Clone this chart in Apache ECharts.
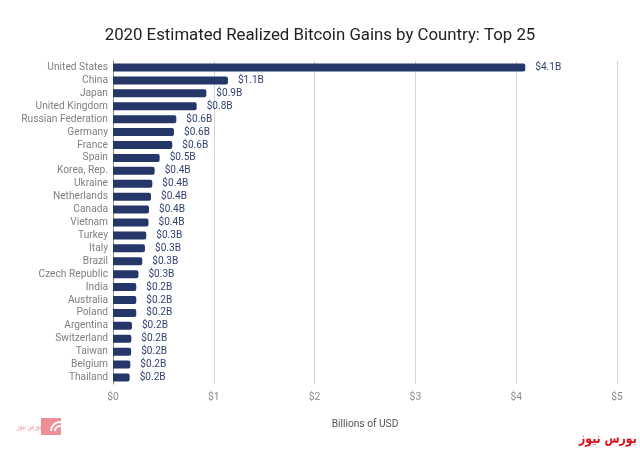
<!DOCTYPE html>
<html>
<head>
<meta charset="utf-8">
<style>
  html, body { margin: 0; padding: 0; background: #fff; }
  #chart { width: 640px; height: 452px; }
</style>
<script src="https://cdn.jsdelivr.net/npm/echarts@6/dist/echarts.min.js"></script>
</head>
<body>
<div id="chart"></div>
<script>
const countries = ['United States', 'China', 'Japan', 'United Kingdom', 'Russian Federation', 'Germany', 'France', 'Spain', 'Korea, Rep.', 'Ukraine', 'Netherlands', 'Canada', 'Vietnam', 'Turkey', 'Italy', 'Brazil', 'Czech Republic', 'India', 'Australia', 'Poland', 'Argentina', 'Switzerland', 'Taiwan', 'Belgium', 'Thailand'];
const gains = [4.09, 1.14, 0.926, 0.83, 0.628, 0.605, 0.588, 0.463, 0.413, 0.39, 0.377, 0.357, 0.352, 0.33, 0.317, 0.29, 0.252, 0.231, 0.231, 0.231, 0.188, 0.182, 0.18, 0.172, 0.165];
const titleText = '2020 Estimated Realized Bitcoin Gains by Country: Top 25';
const axisName = 'Billions of USD';

const chart = echarts.init(document.getElementById('chart'), null, { renderer: 'canvas' });

const option = {
  backgroundColor: '#ffffff',
  textStyle: { fontFamily: 'Roboto' },
  animation: false,
  title: {
    text: titleText,
    left: 'center',
    top: 22,
    textStyle: { fontFamily: 'Roboto', fontSize: 16.8, fontWeight: 'normal', color: '#212121' }
  },
  grid: { left: 113, right: 23, top: 61, bottom: 68 },
  xAxis: {
    type: 'value',
    min: 0,
    max: 5,
    interval: 1,
    axisLine: { show: false },
    axisTick: { show: false },
    splitLine: { lineStyle: { color: '#d4d4d4', width: 1 } },
    axisLabel: {
      color: '#8c8c8c',
      fontSize: 10.3,
      margin: 8,
      formatter: function (v) { return '$' + v; }
    },
    name: axisName,
    nameLocation: 'middle',
    nameGap: 35,
    nameTextStyle: { color: '#555555', fontSize: 10.2 }
  },
  yAxis: {
    type: 'category',
    inverse: true,
    data: countries,
    axisLine: { lineStyle: { color: '#8a8a8a', width: 1 } },
    axisTick: { show: false },
    axisLabel: { color: '#7f7f7f', fontSize: 10.2, margin: 5, interval: 0 }
  },
  series: [{
    type: 'bar',
    data: gains,
    barWidth: 8,
    itemStyle: { color: '#253669', borderRadius: [0, 2, 2, 0] },
    label: {
      show: true,
      position: 'right',
      distance: 10,
      color: '#34426f',
      fontSize: 10.1,
      formatter: function (p) { return '$' + p.value.toFixed(1) + 'B'; }
    }
  }],
  graphic: [
    {
      type: 'text',
      x: 579,
      y: 432,
      scaleX: 0.78,
      style: { text: 'بورس نیوز', fill: '#d9131b', font: 'bold 14px "DejaVu Sans"' }
    },
    {
      type: 'text',
      x: 17,
      y: 422,
      scaleX: 0.62,
      style: { text: 'بورس نیوز', fill: '#f0a0a6', font: '9px "DejaVu Sans"' }
    },
    {
      type: 'rect',
      shape: { x: 41, y: 418, width: 20, height: 17 },
      style: { fill: '#ee8f97' }
    },
    {
      type: 'arc',
      shape: { cx: 60, cy: 431, r: 9, startAngle: Math.PI, endAngle: Math.PI * 1.6 },
      style: { stroke: '#ffffff', lineWidth: 2, fill: null }
    },
    {
      type: 'arc',
      shape: { cx: 60, cy: 431, r: 5, startAngle: Math.PI, endAngle: Math.PI * 1.7 },
      style: { stroke: '#ffffff', lineWidth: 2, fill: null }
    }
  ]
};

chart.setOption(option);
</script>
</body>
</html>
